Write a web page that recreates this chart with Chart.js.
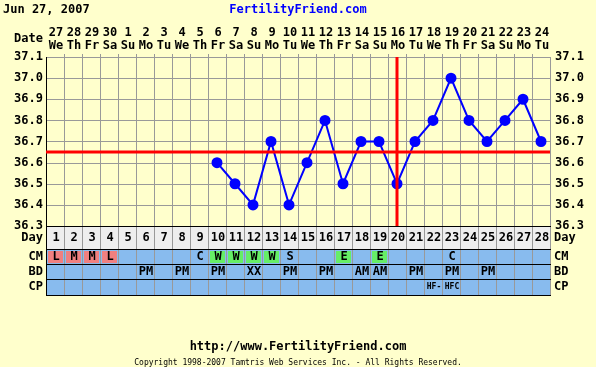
<!DOCTYPE html>
<html>
<head>
<meta charset="utf-8">
<script src="https://cdn.jsdelivr.net/npm/chart.js@4/dist/chart.umd.min.js"></script>
<style>
  html, body { margin: 0; padding: 0; background: #FFFFCC; }
  canvas { display: block; }
</style>
</head>
<body>
<canvas id="chart" width="596" height="367"></canvas>
<script>
const chartTitle = "Jun 27, 2007";
const siteName = "FertilityFriend.com";
const footerUrl = "http://www.FertilityFriend.com";
const copyright = "Copyright 1998-2007 Tamtris Web Services Inc. - All Rights Reserved.";

const dates = ["27","28","29","30","1","2","3","4","5","6","7","8","9","10",
  "11","12","13","14","15","16","17","18","19","20","21","22","23","24"];
const weekdays = ["We","Th","Fr","Sa","Su","Mo","Tu","We","Th","Fr","Sa","Su","Mo","Tu",
  "We","Th","Fr","Sa","Su","Mo","Tu","We","Th","Fr","Sa","Su","Mo","Tu"];
const cycleDays = ["1","2","3","4","5","6","7","8","9","10","11","12","13","14",
  "15","16","17","18","19","20","21","22","23","24","25","26","27","28"];

const tempDays = [10,11,12,13,14,15,16,17,18,19,20,21,22,23,24,25,26,27,28];
const temps = [36.6,36.5,36.4,36.7,36.4,36.6,36.8,36.5,36.7,36.7,36.5,36.7,36.8,37.0,36.8,36.7,36.8,36.9,36.7];
const tempTicks = [37.1,37.0,36.9,36.8,36.7,36.6,36.5,36.4,36.3];
const coverline = 36.65;
const ovulationDay = 20;

const cmValues = ["L","M","M","L","","","","","C","W","W","W","W","S",
  "","","E","","E","","","","C","","","","",""];
const bdValues = ["","","","","","PM","","PM","","PM","","XX","","PM",
  "","PM","","AM","AM","","PM","","PM","","PM","","",""];
const cpValues = ["","","","","","","","","","","","","","",
  "","","","","","","","HF-","HFC","","","","",""];

const cmFill = { L: "#F08080", M: "#F08080", W: "#66EE66", E: "#66EE66" };
const FONT = '"DejaVu Sans Mono", monospace';

const ffPlugin = {
  id: "ffChart",
  beforeDatasetsDraw(chart) {
    const { ctx, chartArea: a, scales: { x, y } } = chart;
    const rows = [
      { top: a.bottom, h: 23, fill: "#EEEEEE" },
      { top: a.bottom + 23, h: 15, fill: "#88BBEE" },
      { top: a.bottom + 38, h: 15, fill: "#88BBEE" },
      { top: a.bottom + 53, h: 16, fill: "#88BBEE" }
    ];
    const tableBottom = a.bottom + 69;
    ctx.save();
    rows.forEach(r => { ctx.fillStyle = r.fill; ctx.fillRect(a.left, r.top, a.right - a.left, r.h); });

    // coloured CM cells
    cmValues.forEach((v, i) => {
      if (cmFill[v]) {
        const l = x.getPixelForValue(i), rr = x.getPixelForValue(i + 1);
        ctx.fillStyle = cmFill[v];
        ctx.fillRect(l + 2, rows[1].top + 2, rr - l - 3, rows[1].h - 3);
      }
    });

    ctx.strokeStyle = "#999999";
    ctx.lineWidth = 1;
    // vertical grid lines through chart and table
    for (let i = 1; i < cycleDays.length; i++) {
      const px = Math.round(x.getPixelForValue(i)) + 0.5;
      ctx.beginPath(); ctx.moveTo(px, a.top - 3); ctx.lineTo(px, tableBottom); ctx.stroke();
    }
    // horizontal grid lines
    tempTicks.forEach(t => {
      if (t === tempTicks[tempTicks.length - 1]) return;
      const py = Math.round(y.getPixelForValue(t)) + 0.5;
      ctx.beginPath(); ctx.moveTo(a.left, py); ctx.lineTo(a.right, py); ctx.stroke();
    });
    // right border
    ctx.beginPath(); ctx.moveTo(Math.round(a.right) + 0.5, a.top); ctx.lineTo(Math.round(a.right) + 0.5, tableBottom); ctx.stroke();

    // black borders
    ctx.strokeStyle = "#000000";
    const hl = [a.bottom, rows[1].top, rows[2].top, rows[3].top, tableBottom];
    hl.forEach(py => {
      const yy = Math.round(py) + 0.5;
      ctx.beginPath(); ctx.moveTo(a.left, yy); ctx.lineTo(a.right + 1, yy); ctx.stroke();
    });
    ctx.beginPath(); ctx.moveTo(Math.round(a.left) + 0.5, a.top); ctx.lineTo(Math.round(a.left) + 0.5, tableBottom); ctx.stroke();
    ctx.restore();
  },
  afterDraw(chart) {
    const { ctx, chartArea: a, scales: { x, y } } = chart;
    const W = chart.width;
    ctx.save();
    ctx.textBaseline = "middle";

    // title row
    ctx.font = "bold 12px " + FONT;
    ctx.fillStyle = "#000000";
    ctx.textAlign = "left";
    ctx.fillText(chartTitle, 3, 10);
    ctx.fillStyle = "#0000FF";
    ctx.textAlign = "center";
    ctx.fillText(siteName, W / 2, 10);

    // header
    ctx.fillStyle = "#000000";
    ctx.font = "bold 12px " + FONT;
    ctx.textAlign = "right";
    ctx.fillText("Date", a.left - 3, 39);
    ctx.textAlign = "center";
    dates.forEach((d, i) => {
      const cx = x.getPixelForValue(i + 0.5);
      ctx.fillText(d, cx + 1, 33);
      ctx.fillText(weekdays[i], cx + 1, 46);
    });

    // temp axis labels, both sides
    tempTicks.forEach(t => {
      const py = y.getPixelForValue(t);
      ctx.textAlign = "right";
      ctx.fillText(t.toFixed(1), a.left - 3, py);
      ctx.textAlign = "left";
      ctx.fillText(t.toFixed(1), a.right + 5, py);
    });

    // table labels
    const labelRows = [["Day", a.bottom + 12], ["CM", a.bottom + 31], ["BD", a.bottom + 46], ["CP", a.bottom + 61]];
    labelRows.forEach(([t, py]) => {
      ctx.textAlign = "right";
      ctx.fillText(t, a.left - 3, py);
      ctx.textAlign = "left";
      ctx.fillText(t, a.right + 4, py);
    });

    ctx.textAlign = "center";
    cycleDays.forEach((d, i) => {
      const cx = x.getPixelForValue(i + 0.5) + 1;
      ctx.font = "bold 12px " + FONT;
      ctx.fillText(d, cx, a.bottom + 12);
      if (cmValues[i]) ctx.fillText(cmValues[i], cx, a.bottom + 31);
      if (bdValues[i]) ctx.fillText(bdValues[i], cx, a.bottom + 46);
      if (cpValues[i]) {
        ctx.font = "bold 8px " + FONT;
        ctx.fillText(cpValues[i], cx, a.bottom + 61);
      }
    });

    // footer
    ctx.font = "bold 12px " + FONT;
    ctx.fillText(footerUrl, W / 2, 347);
    ctx.font = "8px " + FONT;
    ctx.fillText(copyright, W / 2, 363);
    ctx.restore();
  }
};

new Chart(document.getElementById("chart"), {
  type: "line",
  data: {
    datasets: [
      {
        label: "Coverline",
        data: [{ x: 0, y: coverline }, { x: cycleDays.length, y: coverline }],
        borderColor: "#FF0000",
        borderWidth: 3,
        pointRadius: 0,
        order: 0
      },
      {
        label: "Ovulation",
        data: [{ x: ovulationDay - 0.5, y: tempTicks[0] }, { x: ovulationDay - 0.5, y: tempTicks[tempTicks.length - 1] }],
        borderColor: "#FF0000",
        borderWidth: 3,
        pointRadius: 0,
        order: 0
      },
      {
        label: "Temperature",
        data: tempDays.map((d, i) => ({ x: d - 0.5, y: temps[i] })),
        borderColor: "#0000FF",
        backgroundColor: "#0000FF",
        borderWidth: 2,
        pointRadius: 4.5,
        pointHoverRadius: 4.5,
        tension: 0,
        order: 1
      }
    ]
  },
  options: {
    responsive: false,
    animation: false,
    devicePixelRatio: 1,
    layout: { padding: { left: 46, right: 46, top: 57, bottom: 141 } },
    plugins: { legend: { display: false }, tooltip: { enabled: false } },
    scales: {
      x: { type: "linear", min: 0, max: cycleDays.length, display: false },
      y: { type: "linear", min: 36.3, max: 37.1, display: false }
    }
  },
  plugins: [ffPlugin]
});
</script>
</body>
</html>
